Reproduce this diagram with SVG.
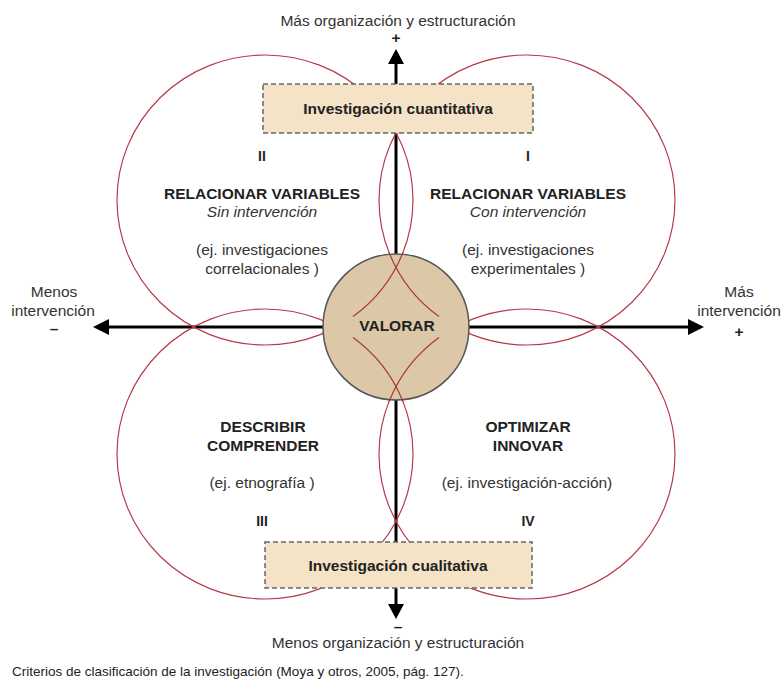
<svg xmlns="http://www.w3.org/2000/svg" width="781" height="680" viewBox="0 0 781 680">
<style>
text{font-family:"Liberation Sans",Arial,sans-serif;font-size:15.5px;fill:#333;text-anchor:middle}
.b{font-weight:bold;fill:#222}
.i{font-style:italic}
.axis{stroke:#000;stroke-width:3;fill:none}
.ring{fill:none;stroke:#b8394a;stroke-width:1.2}
.inner{fill:none;stroke:#a8383c;stroke-width:1.2}
.box{fill:#f4e3c6;stroke:#666;stroke-width:1.5;stroke-dasharray:5 3}
.head{fill:#000}
</style>
<rect width="781" height="680" fill="#fff"/>
<g id="connectors">
<line class="axis" x1="396" y1="62" x2="396" y2="606"/>
<line class="axis" x1="108" y1="327" x2="689" y2="327"/>
<polygon class="head" points="396,49 388,64 404,64"/>
<polygon class="head" points="396,619 388,604 404,604"/>
<polygon class="head" points="93,327 109,319 109,335"/>
<polygon class="head" points="704,327 688,319 688,335"/>
</g>
<g id="rings">
<ellipse class="ring" cx="265" cy="200" rx="148" ry="145"/>
<ellipse class="ring" cx="527" cy="200" rx="148" ry="145"/>
<ellipse class="ring" cx="265" cy="454" rx="148" ry="145"/>
<ellipse class="ring" cx="527" cy="454" rx="148" ry="145"/>
</g>
<g id="valorar">
<circle cx="396" cy="327" r="73" fill="#dcc8a6" stroke="#555" stroke-width="1.5"/>
<path class="inner" d="M403,252.4 A148,145 0 0 1 353,316.6"/>
<path class="inner" d="M389,252.4 A148,145 0 0 0 439,316.6"/>
<path class="inner" d="M403,401.6 A148,145 0 0 0 353,337.4"/>
<path class="inner" d="M389,401.6 A148,145 0 0 1 439,337.4"/>
<text class="b" x="397" y="331">VALORAR</text>
</g>
<g id="cuantitativa">
<rect class="box" x="263" y="84" width="270" height="49"/>
<text class="b" x="398" y="114">Investigación cuantitativa</text>
</g>
<g id="cualitativa">
<rect class="box" x="265" y="542" width="267" height="46"/>
<text class="b" x="398" y="571">Investigación cualitativa</text>
</g>
<g id="axis-labels">
<text x="398" y="26">Más organización y estructuración</text>
<text class="b" x="396" y="43">+</text>
<text class="b" x="398" y="632">–</text>
<text x="398" y="648">Menos organización y estructuración</text>
<text x="54" y="297">Menos</text>
<text x="53" y="316">intervención</text>
<text class="b" x="54" y="334">–</text>
<text x="739" y="297">Más</text>
<text x="739" y="316">intervención</text>
<text class="b" x="739" y="337">+</text>
</g>
<g id="q2">
<text class="b" x="262" y="161" style="font-size:14px">II</text>
<text class="b" x="262" y="199">RELACIONAR VARIABLES</text>
<text class="i" x="262" y="217">Sin intervención</text>
<text x="262" y="255">(ej. investigaciones</text>
<text x="262" y="274">correlacionales )</text>
</g>
<g id="q1">
<text class="b" x="528" y="161" style="font-size:14px">I</text>
<text class="b" x="528" y="199">RELACIONAR VARIABLES</text>
<text class="i" x="528" y="217">Con intervención</text>
<text x="528" y="255">(ej. investigaciones</text>
<text x="528" y="274">experimentales )</text>
</g>
<g id="q3">
<text class="b" x="263" y="432">DESCRIBIR</text>
<text class="b" x="263" y="451">COMPRENDER</text>
<text x="262" y="488">(ej. etnografía )</text>
<text class="b" x="262" y="526" style="font-size:14px">III</text>
</g>
<g id="q4">
<text class="b" x="528" y="432">OPTIMIZAR</text>
<text class="b" x="528" y="451">INNOVAR</text>
<text x="527" y="488">(ej. investigación-acción)</text>
<text class="b" x="528" y="526" style="font-size:14px">IV</text>
</g>
<g id="caption">
<text x="12" y="676" style="text-anchor:start;font-size:13.5px;fill:#222">Criterios de clasificación de la investigación (Moya y otros, 2005, pág. 127).</text>
</g>
</svg>
